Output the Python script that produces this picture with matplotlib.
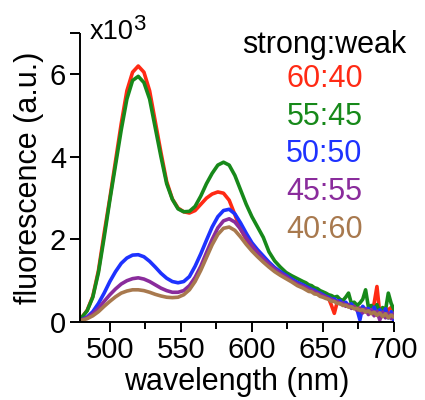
import matplotlib
matplotlib.use("Agg")
import matplotlib.pyplot as plt
from matplotlib.ticker import FixedLocator

plt.rcParams["font.family"] = ["Liberation Sans", "DejaVu Sans"]

# emission spectra, intensity in units of 1e3
# 4 nm steps up to 636 nm, 2 nm steps in the noisy red tail
wavelength = [480, 484, 488, 492, 496, 500, 504, 508, 512, 516, 520, 524, 528, 532,
              536, 540, 544, 548, 552, 556, 560, 564, 568, 572, 576, 580, 584, 588,
              592, 596, 600, 604, 608, 612, 616, 620, 624, 628, 632, 636,
              638, 640, 642, 644, 646, 648, 650, 652, 654, 656, 658, 660, 662, 664,
              666, 668, 670, 672, 674, 676, 678, 680, 682, 684, 686, 688, 690, 692,
              694, 696, 698, 700]

ratio_60_40 = [0.1, 0.28, 0.62, 1.25, 2.15, 3.0, 3.9, 4.8, 5.6, 6.05, 6.2, 6.05, 5.6, 4.85,
               4.1, 3.4, 2.98, 2.76, 2.67, 2.64, 2.7, 2.85, 3.0, 3.1, 3.15, 3.12, 2.95, 2.6,
               2.25, 2.0, 1.8, 1.68, 1.55, 1.42, 1.3, 1.2, 1.1, 1.0, 0.93, 0.88,
               0.85, 0.8, 0.8, 0.74, 0.73, 0.68, 0.64, 0.62, 0.57, 0.4, 0.21, 0.48, 0.5, 0.43,
               0.45, 0.38, 0.4, 0.33, 0.36, 0.28, 0.34, 0.25, 0.3, 0.22, 0.45, 0.86, 0.2, 0.28,
               0.15, 0.3, 0.35, 0.25]
ratio_55_45 = [0.1, 0.27, 0.6, 1.2, 2.05, 2.95, 3.8, 4.65, 5.4, 5.85, 5.95, 5.8, 5.4, 4.7,
               4.0, 3.35, 2.97, 2.74, 2.67, 2.68, 2.8, 3.05, 3.35, 3.6, 3.8, 3.87, 3.8, 3.55,
               3.2, 2.85, 2.55, 2.3, 2.05, 1.7, 1.48, 1.33, 1.2, 1.12, 1.05, 0.98,
               0.95, 0.9, 0.88, 0.83, 0.81, 0.76, 0.73, 0.7, 0.66, 0.64, 0.6, 0.62, 0.55, 0.52,
               0.6, 0.7, 0.45, 0.48, 0.4, 0.46, 0.55, 0.78, 0.36, 0.4, 0.3, 0.42, 0.25, 0.35,
               0.28, 0.7, 0.45, 0.3]
ratio_50_50 = [0.05, 0.12, 0.25, 0.45, 0.7, 0.98, 1.22, 1.42, 1.55, 1.62, 1.63, 1.58, 1.47, 1.33,
               1.18, 1.06, 0.98, 0.95, 0.98, 1.1, 1.35, 1.65, 1.98, 2.3, 2.55, 2.7, 2.73, 2.62,
               2.4, 2.15, 1.92, 1.75, 1.6, 1.45, 1.32, 1.22, 1.13, 1.04, 0.96, 0.9,
               0.86, 0.83, 0.79, 0.77, 0.72, 0.7, 0.66, 0.62, 0.6, 0.55, 0.56, 0.5, 0.52, 0.44,
               0.48, 0.4, 0.44, 0.35, 0.3, 0.05, 0.38, 0.3, 0.33, 0.22, 0.36, 0.2, 0.3, 0.15,
               0.32, 0.1, 0.25, 0.02]
ratio_45_55 = [0.05, 0.1, 0.2, 0.33, 0.5, 0.66, 0.8, 0.92, 1.0, 1.05, 1.07, 1.04, 0.98, 0.9,
               0.82, 0.76, 0.72, 0.72, 0.76, 0.88, 1.08, 1.35, 1.68, 2.0, 2.28, 2.45, 2.5, 2.42,
               2.25, 2.03, 1.85, 1.68, 1.53, 1.4, 1.28, 1.18, 1.1, 1.0, 0.92, 0.86,
               0.83, 0.79, 0.77, 0.73, 0.7, 0.67, 0.63, 0.61, 0.56, 0.55, 0.5, 0.5, 0.44, 0.46,
               0.38, 0.42, 0.33, 0.38, 0.28, 0.34, 0.22, 0.32, 0.18, 0.3, 0.15, 0.26, 0.05, 0.24,
               0.1, 0.22, 0.08, 0.2]
ratio_40_60 = [0.04, 0.08, 0.15, 0.25, 0.38, 0.5, 0.61, 0.7, 0.75, 0.78, 0.78, 0.76, 0.72, 0.67,
               0.63, 0.6, 0.59, 0.6, 0.66, 0.78, 0.98, 1.25, 1.56, 1.87, 2.12, 2.27, 2.3, 2.22,
               2.06, 1.88, 1.72, 1.58, 1.45, 1.33, 1.22, 1.13, 1.05, 0.97, 0.88, 0.82,
               0.78, 0.74, 0.73, 0.68, 0.67, 0.62, 0.6, 0.57, 0.55, 0.5, 0.5, 0.45, 0.45, 0.4,
               0.41, 0.36, 0.37, 0.32, 0.33, 0.28, 0.3, 0.24, 0.27, 0.2, 0.24, 0.16, 0.22, 0.13,
               0.2, 0.1, 0.17, 0.12]

labels = ["60:40", "55:45", "50:50", "45:55", "40:60"]
series = [ratio_60_40, ratio_55_45, ratio_50_50, ratio_45_55, ratio_40_60]
colors = ["#FF2A14", "#17891A", "#1E32FF", "#8A2C9C", "#A8794E"]

fig = plt.figure(figsize=(4.25, 4.0), dpi=100)
ax = fig.add_axes([80 / 425, 78 / 400, 314 / 425, 289 / 400])

for ys, c in zip(series, colors):
    ax.plot(wavelength, ys, color=c, lw=2.6, solid_joinstyle="round")

ax.set_xlim(479, 700)
ax.set_ylim(0, 7)
ax.set_xticks([500, 550, 600, 650, 700])
ax.xaxis.set_minor_locator(FixedLocator([525, 575, 625, 675]))
ax.set_yticks([0, 2, 4, 6])
ax.yaxis.set_minor_locator(FixedLocator([7]))

for side in ("top", "right"):
    ax.spines[side].set_visible(False)
for side in ("left", "bottom"):
    ax.spines[side].set_linewidth(1.4)
    ax.spines[side].set_capstyle("butt")

ax.tick_params(which="major", length=7, width=1.4, labelsize=21, pad=3)
ax.tick_params(which="minor", length=5, width=1.4)
ax.tick_params(axis="y", which="minor", length=7)

ax.set_xlabel("wavelength (nm)", fontsize=22, labelpad=2)
ax.set_ylabel("fluorescence (a.u.)", fontsize=22, labelpad=4)

# multiplier above the y axis, exponent as its own raised text
ax.text(486, 6.86, "x10", fontsize=19.5, ha="left", va="baseline")
ax.text(516.3, 7.07, "3", fontsize=16, ha="left", va="baseline")

# ratio legend as coloured text
ax.text(651, 6.72, "strong:weak", fontsize=22, ha="center", va="center")
for i, (lab, c) in enumerate(zip(labels, colors)):
    ax.text(651, 5.88 - 0.91 * i, lab, color=c, fontsize=22, ha="center", va="center")

fig.savefig("out.png", dpi=100)
